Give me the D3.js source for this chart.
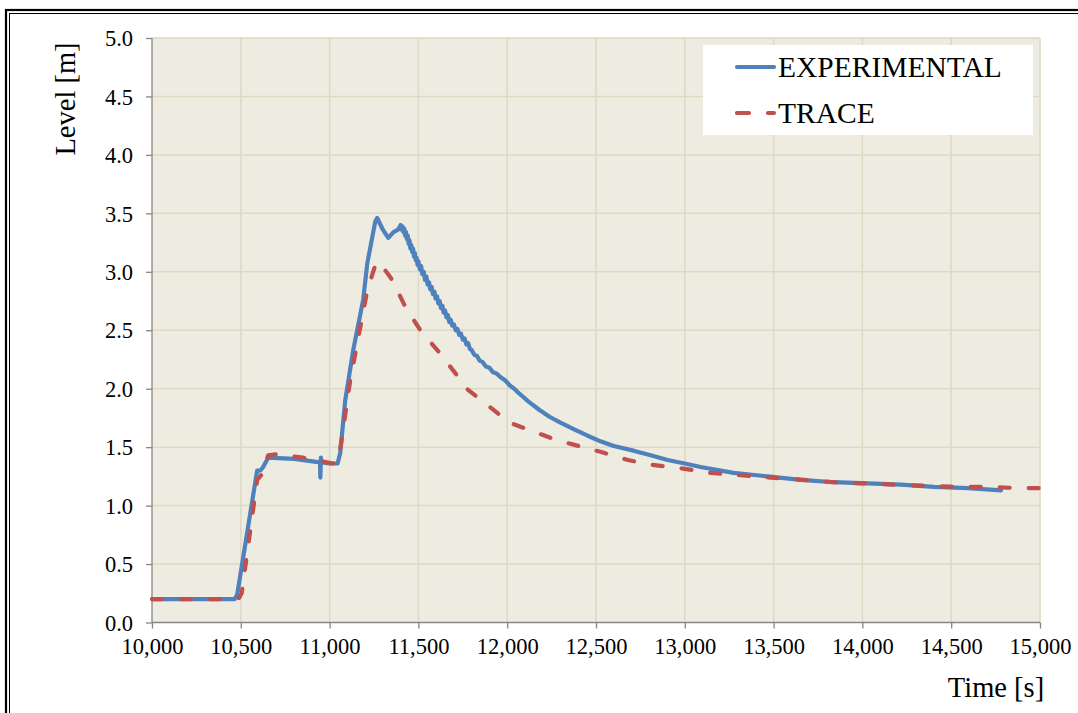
<!DOCTYPE html>
<html>
<head>
<meta charset="utf-8">
<script src="https://cdn.jsdelivr.net/npm/d3@7"></script>
<style>
  html, body { margin: 0; padding: 0; background: #ffffff; }
  svg { display: block; }
  text { font-family: "Liberation Serif", "Times New Roman", serif; fill: #000; }
</style>
</head>
<body>
<svg id="chart" width="1078" height="713"></svg>
<script>
// Measured level, experiment (sensor signal is noisy during the drain-down)
const expTime = [10000, 10440, 10465, 10480, 10592, 10610, 10626, 10654, 10800, 10946, 10948, 10951, 10953, 10956, 11000, 11045,
  11060, 11088, 11133, 11189, 11212, 11257, 11268, 11300, 11330, 11360, 11385, 11400,
  11405, 11410, 11415, 11420, 11425, 11430, 11435, 11440, 11445, 11450, 11455, 11460, 11465, 11470, 11475, 11480, 11485,
  11490, 11495, 11500, 11508, 11515, 11522, 11530, 11537, 11545, 11552, 11560, 11567, 11575, 11582, 11590, 11597, 11605,
  11612, 11620, 11627, 11635, 11642, 11650, 11658, 11666, 11674, 11682, 11690, 11700, 11710, 11720, 11730, 11740, 11750,
  11760, 11770, 11780, 11790, 11800, 11815, 11830, 11845, 11860, 11880, 11900, 11920, 11940, 11961, 11990, 12013, 12040,
  12060, 12120, 12180, 12238, 12300, 12380, 12450, 12525, 12600, 12711, 12808, 12903, 13000, 13089, 13275, 13467, 13653,
  13839, 14030, 14216, 14403, 14594, 14780];
const expLevel = [0.20, 0.20, 0.20, 0.24, 1.30, 1.30, 1.33, 1.41, 1.40, 1.37, 1.24, 1.41, 1.38, 1.37, 1.36, 1.36,
  1.45, 1.90, 2.33, 2.76, 3.07, 3.43, 3.46, 3.36, 3.29, 3.34, 3.36, 3.40,
  3.36, 3.39, 3.34, 3.37, 3.31, 3.34, 3.28, 3.31, 3.24, 3.27, 3.20, 3.23, 3.17, 3.20, 3.13, 3.16, 3.10,
  3.12, 3.06, 3.09, 3.02, 3.05, 2.98, 3.00, 2.93, 2.96, 2.89, 2.91, 2.85, 2.87, 2.81, 2.83, 2.77, 2.79,
  2.73, 2.75, 2.69, 2.71, 2.65, 2.67, 2.61, 2.63, 2.57, 2.59, 2.54, 2.55, 2.50, 2.51, 2.46, 2.47, 2.42,
  2.43, 2.38, 2.39, 2.34, 2.33, 2.29, 2.28, 2.24, 2.23, 2.19, 2.18, 2.14, 2.13, 2.10, 2.07, 2.03, 2.00,
  1.97, 1.89, 1.82, 1.76, 1.71, 1.65, 1.60, 1.55, 1.51, 1.47, 1.43, 1.39, 1.36, 1.33, 1.28, 1.25, 1.22,
  1.20, 1.19, 1.18, 1.16, 1.15, 1.13];

// Simulated level, TRACE code
const traceTime = [10000, 10470, 10490, 10505, 10592, 10620, 10654, 10700, 10850, 11020, 11050, 11116, 11212, 11262, 11290,
  11310, 11353, 11426, 11511, 11623, 11780, 12013, 12278, 12525, 12680, 12807, 12976, 13145, 13315, 13484, 13670, 13839,
  14008, 14177, 14346, 14538, 14707, 14876, 15000];
const traceLevel = [0.20, 0.20, 0.21, 0.25, 1.22, 1.27, 1.43, 1.44, 1.41, 1.36, 1.38, 2.07, 2.84, 3.08, 3.07,
  3.02, 2.93, 2.70, 2.50, 2.30, 1.99, 1.71, 1.56, 1.46, 1.39, 1.35, 1.32, 1.28, 1.26, 1.24, 1.22, 1.20,
  1.19, 1.18, 1.17, 1.16, 1.16, 1.15, 1.15];

const xTicks = [10000, 10500, 11000, 11500, 12000, 12500, 13000, 13500, 14000, 14500, 15000];
const yTicks = [0.0, 0.5, 1.0, 1.5, 2.0, 2.5, 3.0, 3.5, 4.0, 4.5, 5.0];
const seriesNames = ["EXPERIMENTAL", "TRACE"];
const seriesColors = ["#4f81bd", "#c0504d"];

const svg = d3.select("#chart");
const plot = { left: 152, right: 1040, top: 38, bottom: 622.5 };

const x = d3.scaleLinear().domain([10000, 15000]).range([plot.left, plot.right]);
const y = d3.scaleLinear().domain([0, 5]).range([plot.bottom, plot.top]);

// Double frame round the whole figure
svg.append("rect").attr("x", 6).attr("y", 10).attr("width", 1200).attr("height", 900)
  .attr("fill", "none").attr("stroke", "#000").attr("stroke-width", 2.2);
svg.append("rect").attr("x", 9.5).attr("y", 13.5).attr("width", 1200).attr("height", 900)
  .attr("fill", "none").attr("stroke", "#000").attr("stroke-width", 1);

// Plot area background
svg.append("rect")
  .attr("x", plot.left).attr("y", plot.top)
  .attr("width", plot.right - plot.left).attr("height", plot.bottom - plot.top)
  .attr("fill", "#eeece1");

// Gridlines
const grid = svg.append("g").attr("stroke", "#ddd9c3").attr("stroke-width", 1.5);
grid.selectAll("line.v").data(xTicks.slice(1)).join("line")
  .attr("x1", d => x(d)).attr("x2", d => x(d))
  .attr("y1", plot.top).attr("y2", plot.bottom);
grid.selectAll("line.h").data(yTicks.slice(1)).join("line")
  .attr("x1", plot.left).attr("x2", plot.right)
  .attr("y1", d => y(d)).attr("y2", d => y(d));

// Axes
const fmtX = d3.format(",");
const xAxis = d3.axisBottom(x).tickValues(xTicks).tickFormat(fmtX).tickSize(6).tickPadding(8);
const yAxis = d3.axisLeft(y).tickValues(yTicks).tickFormat(d3.format(".1f")).tickSize(6).tickPadding(13);

const gx = svg.append("g").attr("transform", `translate(0,${plot.bottom})`).call(xAxis);
const gy = svg.append("g").attr("transform", `translate(${plot.left},0)`).call(yAxis);
[gx, gy].forEach(g => {
  g.select(".domain").attr("stroke", "#868686").attr("stroke-width", 1.3);
  g.selectAll(".tick line").attr("stroke", "#868686").attr("stroke-width", 1.3);
  g.selectAll(".tick text")
    .attr("font-family", "Liberation Serif, Times New Roman, serif")
    .attr("font-size", 22.5).attr("fill", "#000");
});
gy.select(".domain").attr("d", `M0,${plot.bottom}V${plot.top}`);
gx.select(".domain").attr("d", `M${plot.left},0H${plot.right}`);
gx.selectAll(".tick text").attr("dy", "0.71em").attr("y", 16);
gy.selectAll(".tick text").attr("dy", "0.34em");

// Axis titles
svg.append("text").attr("x", 996).attr("y", 697).attr("text-anchor", "middle")
  .attr("font-size", 28.5).text("Time [s]");
svg.append("text").attr("transform", "translate(75,99) rotate(-90)").attr("text-anchor", "middle")
  .attr("font-size", 28.5).text("Level [m]");

// Series lines
const line = d3.line().x(d => x(d[0])).y(d => y(d[1]));
const expData = expTime.map((t, i) => [t, expLevel[i]]);
const traceData = traceTime.map((t, i) => [t, traceLevel[i]]);

svg.append("path").datum(expData).attr("d", line)
  .attr("fill", "none").attr("stroke", seriesColors[0]).attr("stroke-width", 4.2)
  .attr("stroke-linejoin", "round").attr("stroke-linecap", "round");
svg.append("path").datum(traceData).attr("d", line)
  .attr("fill", "none").attr("stroke", seriesColors[1]).attr("stroke-width", 4.2)
  .attr("stroke-dasharray", "10,19").attr("stroke-linejoin", "round").attr("stroke-linecap", "round");

// Legend
const legend = svg.append("g");
legend.append("rect").attr("x", 703).attr("y", 45).attr("width", 330).attr("height", 90).attr("fill", "#ffffff");
const legendRows = [67, 113];
seriesNames.forEach((name, i) => {
  const ly = legendRows[i];
  legend.append("line").attr("x1", 737).attr("x2", 774).attr("y1", ly).attr("y2", ly)
    .attr("stroke", seriesColors[i]).attr("stroke-width", 4.2).attr("stroke-linecap", "round")
    .attr("stroke-dasharray", i === 1 ? "12,19" : null);
  legend.append("text").attr("x", 778).attr("y", ly + 10).attr("font-size", 29.5).text(name);
});
</script>
</body>
</html>
